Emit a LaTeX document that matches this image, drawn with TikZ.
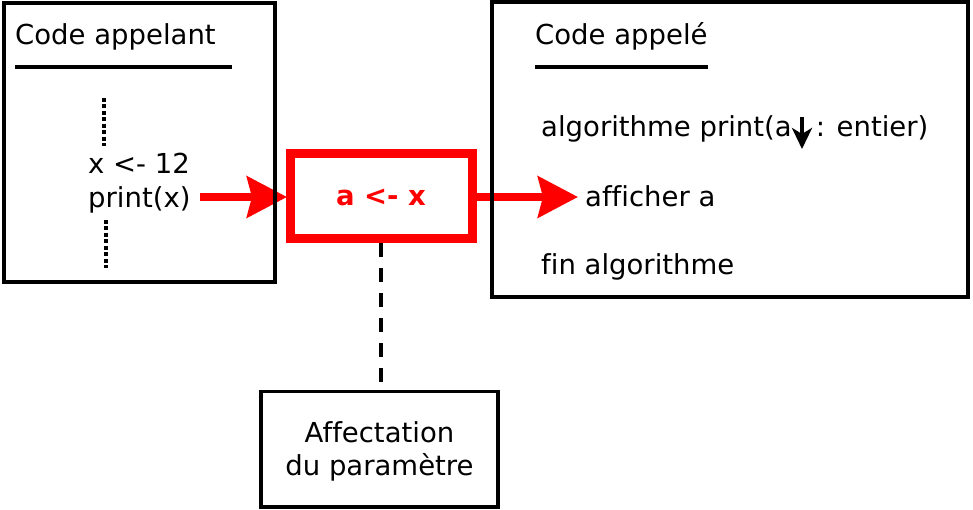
\documentclass[tikz,border=0pt]{standalone}
\usepackage{fontspec}
\setmainfont{DejaVu Sans}[RawFeature=-liga]
\usetikzlibrary{arrows.meta}
\definecolor{pred}{RGB}{255,0,0}
\tikzset{
  txt/.style={anchor=base west, inner sep=0pt, font=\fontsize{27.5}{33}\selectfont},
  ctxt/.style={anchor=base, inner sep=0pt, font=\fontsize{27.5}{33}\selectfont},
  frame/.style={draw=black, line width=4pt},
  redarrow/.style={draw=pred, line width=8pt, -{Stealth[length=40pt,width=41pt,inset=5pt]}},
  dotline/.style={line width=4pt, dash pattern=on 4pt off 2.5pt},
}
\begin{document}
\begin{tikzpicture}[x=1pt,y=-1pt]
\useasboundingbox (0,0) rectangle (973,510);
% red box and arrows
\draw[draw=pred, line width=9pt] (290.5,154) rectangle (472.5,239);
\node[ctxt, text=pred, font=\fontsize{27.5}{33}\selectfont\bfseries] (ax) at (381,206) {a <- x};
\coordinate (rbl) at (287,197);
\coordinate (rbr) at (477,197);
\coordinate (a1s) at (200,197);
\coordinate (a2e) at (578,197);
\draw[redarrow] (a1s) -- (rbl);
\draw[redarrow] (rbr) -- (a2e);
% left box
\draw[frame] (3.5,3.5) rectangle (275,282);
\node[txt] (ca) at (15,45) {Code appelant};
\coordinate (ul1a) at (15,67);
\coordinate (ul1b) at (232,67);
\draw[line width=4pt] (ul1a) -- (ul1b);
\coordinate (d1a) at (104,98);
\coordinate (d1b) at (104,146);
\draw[dotline] (d1a) -- (d1b);
\node[txt] (x12) at (88,174) {x <- 12};
\node[txt] (px) at (88,208) {print(x)};
\coordinate (d2a) at (106,220);
\coordinate (d2b) at (106,268);
\draw[dotline] (d2a) -- (d2b);
% right box
\draw[frame] (492,2) rectangle (968,297);
\node[txt] (cap) at (535,45) {Code appelé};
\coordinate (ul2a) at (535,67);
\coordinate (ul2b) at (708,67);
\draw[line width=4pt] (ul2a) -- (ul2b);
\node[txt] (alg) at (541,137) {algorithme print(a\hspace{24pt}: entier)};
\coordinate (dna) at (802,117);
\coordinate (dnb) at (802,149);
\draw[line width=4pt, -{Stealth[length=21pt,width=20pt,inset=6pt]}] (dna) -- (dnb);
\node[txt] (aff) at (585,207) {afficher a};
\node[txt] (fin) at (541,275) {fin algorithme};
% bottom box
\draw[frame, line width=3.5pt] (261,391.5) rectangle (498,507);
\node[ctxt] (af1) at (379.5,442) {Affectation};
\node[ctxt] (af2) at (379.5,475) {du paramètre};
\coordinate (dsa) at (381,243);
\coordinate (dsb) at (381,386);
\draw[line width=4pt, dash pattern=on 14pt off 11pt] (dsa) -- (dsb);
\end{tikzpicture}
\end{document}
